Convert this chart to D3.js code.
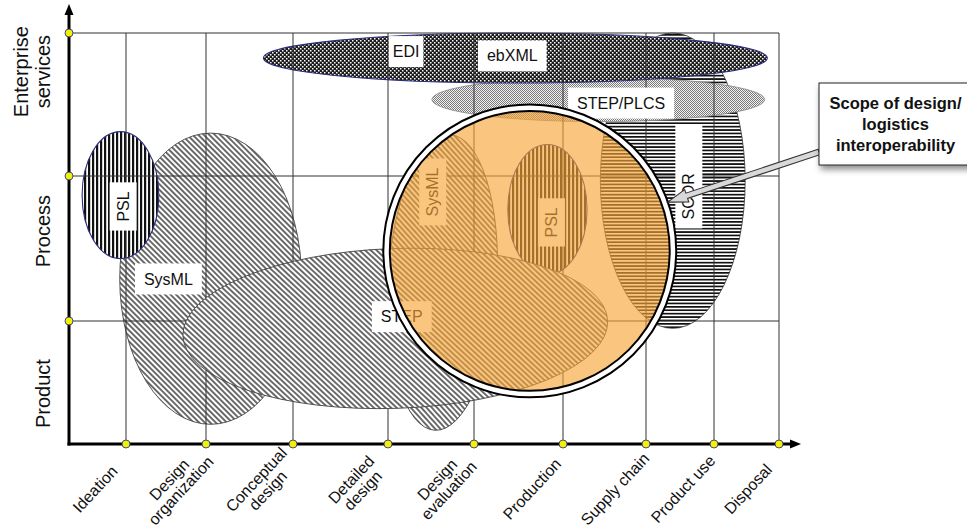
<!DOCTYPE html>
<html>
<head>
<meta charset="utf-8">
<script src="https://cdn.jsdelivr.net/npm/d3@7/dist/d3.min.js"></script>
<style>
  body { margin: 0; background: #fff; }
  svg { display: block; font-family: "Liberation Sans", Arial, Helvetica, sans-serif; }
</style>
</head>
<body>
<div id="chart"></div>
<script>
// life-cycle stages (x) and integration levels (y)
const stages = ["Ideation", "Design|organization", "Conceptual|design", "Detailed|design",
  "Design|evaluation", "Production", "Supply chain", "Product use", "Disposal"];
const levels = ["Product", "Process", "Enterprise|services"];
const levelLabelAt = [0.41, 1.62, 2.73];

// scope of each standard, in stage / level units (drawing order)
const scopes = [
  {name: "SCOR",      x0: 6.45, x1: 8.48, y0: 0.94, y1: 3.00, tilt: 0},
  {name: "SysML",     x0: 0.89, x1: 3.09, y0: 0.16, y1: 2.30, tilt: 0},
  {name: "PSL",       x0: 0.23, x1: 1.41, y0: 1.43, y1: 2.31, tilt: 0},
  {name: "SysML",     x0: 4.00, x1: 5.26, y0: 0.11, y1: 2.29, tilt: 3},
  {name: "PSL",       x0: 5.38, x1: 6.29, y0: 1.32, y1: 2.22, tilt: 0},
  {name: "STEP/PLCS", x0: 4.51, x1: 8.78, y0: 2.38, y1: 2.69, tilt: 0},
  {name: "EDI",       x0: 2.66, x1: 8.82, y0: 2.65, y1: 3.00, tilt: 0},
  {name: "STEP",      x0: 1.71, x1: 6.54, y0: 0.29, y1: 1.50, tilt: -2}
];

// name tags
const tags = [
  {text: "EDI",       stage: 4.21, level: 2.87, vertical: false},
  {text: "ebXML",     stage: 5.43, level: 2.84, vertical: false},
  {text: "STEP/PLCS", stage: 6.70, level: 2.51, vertical: false},
  {text: "SysML",     stage: 1.53, level: 1.29, vertical: false},
  {text: "PSL",       stage: 0.95, level: 1.79, vertical: true},
  {text: "SysML",     stage: 4.52, level: 1.89, vertical: true},
  {text: "PSL",       stage: 5.87, level: 1.68, vertical: true},
  {text: "SCOR",      stage: 7.63, level: 1.86, vertical: true},
  {text: "STEP",      stage: 4.16, level: 1.03, vertical: false}
];

// magnified "scope" lens and its callout
const lens = {x0: 4.02, x1: 7.35, y0: 0.38, y1: 2.50};
const calloutLines = ["Scope of design/", "logistics", "interoperability"];
const calloutTip = {stage: 7.32, level: 1.82};

// ---------- layout ----------
const width = 967, height = 531;
const stageRange = [69, 126, 206, 293, 388, 474, 563, 646, 714, 779];
const levelRange = [444, 321, 176, 33];

const x = d3.scaleLinear().domain(d3.range(stageRange.length)).range(stageRange);
const y = d3.scaleLinear().domain(d3.range(levelRange.length)).range(levelRange);

const style = {
  "SCOR":      {fill: "url(#hstripe)", stroke: "#333", sw: 0.8},
  "SysML":     {fill: "url(#hatch)", stroke: "#444", sw: 0.9},
  "PSL":       {fill: "url(#vstripe)", stroke: "#2c2c80", sw: 1.1},
  "STEP/PLCS": {fill: "url(#lightcheck)", stroke: "#888", sw: 0.8},
  "EDI":       {fill: "url(#darkcheck)", stroke: "#2c2c80", sw: 1.1},
  "STEP":      {fill: "url(#hatch)", stroke: "#444", sw: 0.9, aboveGrid: true}
};
const tagPad = {"EDI": 4};
const tagExtra = {"SCOR": 40};

const svg = d3.select("#chart").append("svg")
  .attr("width", width)
  .attr("height", height);

const defs = svg.append("defs");

const hp = 3.9;
const hatch = defs.append("pattern").attr("id", "hatch")
  .attr("patternUnits", "userSpaceOnUse")
  .attr("width", hp).attr("height", hp)
  .attr("patternTransform", "rotate(-45)");
hatch.append("rect").attr("width", hp).attr("height", hp).attr("fill", "#fff");
hatch.append("line").attr("x1", hp / 2).attr("x2", hp / 2).attr("y1", 0).attr("y2", hp)
  .attr("stroke", "#252525").attr("stroke-width", 1.35);

const vs = defs.append("pattern").attr("id", "vstripe")
  .attr("patternUnits", "userSpaceOnUse").attr("width", 4).attr("height", 4);
vs.append("rect").attr("width", 4).attr("height", 4).attr("fill", "#fff");
vs.append("rect").attr("width", 2.2).attr("height", 4).attr("fill", "#111");

const hs = defs.append("pattern").attr("id", "hstripe")
  .attr("patternUnits", "userSpaceOnUse").attr("width", 4).attr("height", 3.4);
hs.append("rect").attr("width", 4).attr("height", 3.4).attr("fill", "#fff");
hs.append("rect").attr("width", 4).attr("height", 1.7).attr("fill", "#111");

const dc = defs.append("pattern").attr("id", "darkcheck")
  .attr("patternUnits", "userSpaceOnUse").attr("width", 4).attr("height", 4);
dc.append("rect").attr("width", 4).attr("height", 4).attr("fill", "#1c1c1c");
dc.append("rect").attr("width", 1.5).attr("height", 1.5).attr("fill", "#fff");
dc.append("rect").attr("x", 2).attr("y", 2).attr("width", 1.5).attr("height", 1.5).attr("fill", "#fff");

const lc = defs.append("pattern").attr("id", "lightcheck")
  .attr("patternUnits", "userSpaceOnUse").attr("width", 2).attr("height", 2);
lc.append("rect").attr("width", 2).attr("height", 2).attr("fill", "#f2f2f2");
lc.append("rect").attr("width", 1).attr("height", 1).attr("fill", "#7a7a7a");
lc.append("rect").attr("x", 1).attr("y", 1).attr("width", 1).attr("height", 1).attr("fill", "#7a7a7a");

const shadow = defs.append("filter").attr("id", "shadow")
  .attr("x", "-20%").attr("y", "-20%").attr("width", "150%").attr("height", "160%");
shadow.append("feDropShadow").attr("dx", 2).attr("dy", 4).attr("stdDeviation", 3)
  .attr("flood-color", "#000").attr("flood-opacity", 0.45);

const below = svg.append("g");
const gridG = svg.append("g");
const above = svg.append("g");

function drawScope(layer, d) {
  const st = style[d.name];
  const px0 = x(d.x0), px1 = x(d.x1), py0 = y(d.y0), py1 = y(d.y1);
  const cx = (px0 + px1) / 2, cy = (py0 + py1) / 2;
  layer.append("ellipse")
    .attr("cx", cx).attr("cy", cy)
    .attr("rx", Math.abs(px1 - px0) / 2)
    .attr("ry", Math.abs(py1 - py0) / 2)
    .attr("transform", `rotate(${d.tilt},${cx},${cy})`)
    .attr("fill", st.fill)
    .attr("stroke", st.stroke)
    .attr("stroke-width", st.sw);
}
scopes.forEach(d => drawScope(style[d.name].aboveGrid ? above : below, d));

// grid
gridG.selectAll(".v").data(d3.range(1, stageRange.length))
  .join("line")
    .attr("x1", d => x(d)).attr("x2", d => x(d))
    .attr("y1", y(0)).attr("y2", y(levelRange.length - 1))
    .attr("stroke", "#333").attr("stroke-width", 1);
gridG.selectAll(".h").data(d3.range(1, levelRange.length))
  .join("line")
    .attr("x1", x(0)).attr("x2", x(stageRange.length - 1))
    .attr("y1", d => y(d)).attr("y2", d => y(d))
    .attr("stroke", "#333").attr("stroke-width", 1);

// tags
const tagG = svg.append("g");
tags.forEach(t => {
  const g = tagG.append("g")
    .attr("transform", `translate(${x(t.stage)},${y(t.level)}) rotate(${t.vertical ? -90 : 0})`);
  const r = g.append("rect").attr("fill", "#fff");
  const txt = g.append("text")
    .attr("text-anchor", "middle")
    .attr("dy", "0.35em")
    .attr("font-size", 16)
    .attr("fill", "#111")
    .text(t.text);
  const w = txt.node().getComputedTextLength();
  const h = t.vertical ? 27 : 31;
  const pad = tagPad[t.text] !== undefined ? tagPad[t.text] : 9;
  const extra = tagExtra[t.text] || 0;
  r.attr("x", -w / 2 - pad).attr("y", -h / 2)
    .attr("width", w + 2 * pad + extra).attr("height", h);
});

// lens
const lx0 = x(lens.x0), lx1 = x(lens.x1), ly0 = y(lens.y0), ly1 = y(lens.y1);
const lcx = (lx0 + lx1) / 2, lcy = (ly0 + ly1) / 2;
const lr = (Math.abs(lx1 - lx0) + Math.abs(ly1 - ly0)) / 4;
svg.append("circle").attr("cx", lcx).attr("cy", lcy).attr("r", lr)
  .attr("fill", "#f6a436").attr("fill-opacity", 0.64);
svg.append("circle").attr("cx", lcx).attr("cy", lcy).attr("r", lr)
  .attr("fill", "none").attr("stroke", "#000").attr("stroke-width", 8.5);
svg.append("circle").attr("cx", lcx).attr("cy", lcy).attr("r", lr)
  .attr("fill", "none").attr("stroke", "#fff").attr("stroke-width", 4.5);

// axes
const axes = svg.append("g");
const ox = x(0), oy = y(0);
const xEnd = x(stageRange.length - 1) + 22, yEnd = y(levelRange.length - 1) - 29;
axes.append("line").attr("x1", ox).attr("y1", oy + 1.5).attr("x2", ox).attr("y2", yEnd + 8)
  .attr("stroke", "#000").attr("stroke-width", 3);
axes.append("line").attr("x1", ox - 1.5).attr("y1", oy).attr("x2", xEnd - 8).attr("y2", oy)
  .attr("stroke", "#000").attr("stroke-width", 3);
axes.append("path").attr("d", `M${ox},${yEnd} L${ox - 4.5},${yEnd + 11} L${ox + 4.5},${yEnd + 11} Z`);
axes.append("path").attr("d", `M${xEnd},${oy} L${xEnd - 11},${oy - 4.5} L${xEnd - 11},${oy + 4.5} Z`);

axes.selectAll(".xd").data(d3.range(1, stageRange.length))
  .join("circle")
    .attr("cx", d => x(d)).attr("cy", oy).attr("r", 4)
    .attr("fill", "#f2f200").attr("stroke", "#34348a").attr("stroke-width", 0.9);
axes.selectAll(".yd").data(d3.range(1, levelRange.length))
  .join("circle")
    .attr("cx", ox).attr("cy", d => y(d)).attr("r", 4)
    .attr("fill", "#f2f200").attr("stroke", "#34348a").attr("stroke-width", 0.9);

// stage labels
stages.forEach((s, i) => {
  const lines = s.split("|");
  const g = axes.append("g")
    .attr("transform", `translate(${x(i + 1) - 31},${lines.length > 1 ? 485 : 489}) rotate(-47)`);
  lines.forEach((ln, k) => {
    g.append("text")
      .attr("text-anchor", "middle")
      .attr("y", (k - (lines.length - 1) / 2) * 16)
      .attr("dy", "0.35em")
      .attr("font-size", 16)
      .attr("fill", "#111")
      .text(ln);
  });
});

// level labels
levels.forEach((s, i) => {
  const lines = s.split("|");
  const g = axes.append("g")
    .attr("transform", `translate(50,${y(levelLabelAt[i])}) rotate(-90)`);
  lines.forEach((ln, k) => {
    g.append("text")
      .attr("text-anchor", "middle")
      .attr("y", (k - (lines.length - 1)) * 22)
      .attr("font-size", 20)
      .attr("fill", "#111")
      .text(ln);
  });
});

// callout
const box = {x: 819, y: 83, w: 154, h: 82};
const call = svg.append("g");
const tail = [box.x, 152];
const tip = [x(calloutTip.stage), y(calloutTip.level)];
const dx = tip[0] - tail[0], dy = tip[1] - tail[1];
const len = Math.hypot(dx, dy);
const ux = dx / len, uy = dy / len, nx = -uy, ny = ux;
const neck = [tip[0] - ux * 20, tip[1] - uy * 20];
const pt = (p, s) => [p[0] + nx * s, p[1] + ny * s];
const arrowPts = [pt(tail, 2.8), pt(neck, 2.8), pt(neck, 6.5), tip, pt(neck, -6.5), pt(neck, -2.8), pt(tail, -2.8)];
call.append("path")
  .attr("d", d3.line()(arrowPts) + "Z")
  .attr("fill", "#d9d9d9").attr("stroke", "#333").attr("stroke-width", 1.1);

call.append("rect")
  .attr("x", box.x).attr("y", box.y).attr("width", box.w).attr("height", box.h)
  .attr("fill", "#fff").attr("stroke", "#222").attr("stroke-width", 1)
  .attr("filter", "url(#shadow)");
calloutLines.forEach((ln, k) => {
  call.append("text")
    .attr("x", box.x + box.w / 2 - 0.5)
    .attr("y", box.y + 26 + k * 21)
    .attr("text-anchor", "middle")
    .attr("font-size", 16.5)
    .attr("font-weight", "bold")
    .attr("fill", "#111")
    .text(ln);
});
</script>
</body>
</html>
